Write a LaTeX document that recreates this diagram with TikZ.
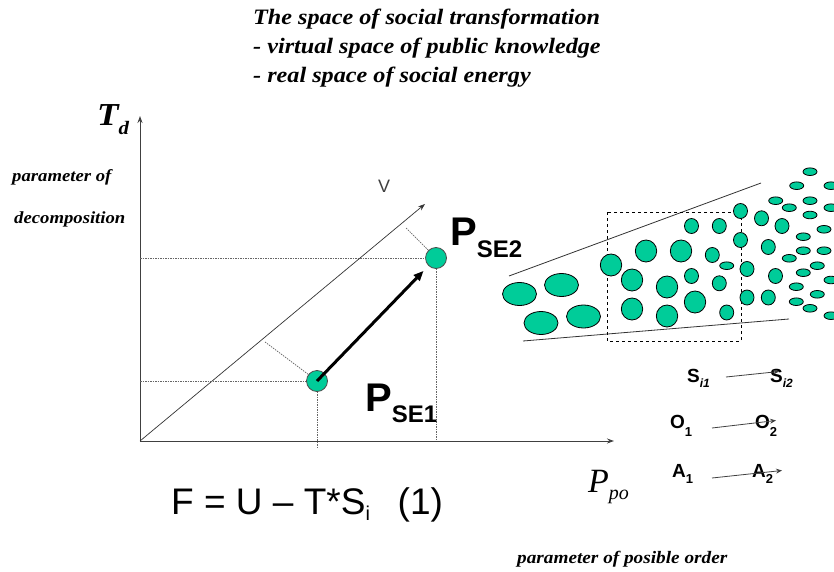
\documentclass[tikz,border=0pt]{standalone}
\usepackage{fontspec}
\setmainfont{Liberation Serif}
\setsansfont{Liberation Sans}
\newfontfamily\widefont{Liberation Serif}[FakeStretch=1.1]
\usetikzlibrary{arrows.meta, positioning}
\definecolor{seagreen}{HTML}{00CC99}
\newcommand{\fsz}[1]{\fontsize{#1}{#1}\selectfont}
\def\bigRx{10.7pt}
\def\bigRy{11pt}

\begin{document}
\begin{tikzpicture}[
    x=1pt, y=-1pt,
    >={Stealth[length=7pt,width=5pt]},
    every node/.style={inner sep=0pt},
    caption/.style={font=\widefont\bfseries\itshape\fsz{22}, anchor=base west},
    note/.style={font=\widefont\bfseries\itshape\fsz{17}, anchor=base west},
    axis/.style={->, draw=black!75, line width=1pt},
    guide/.style={draw=black!60, line width=0.7pt, dash pattern=on 1.5pt off 1pt},
    pse/.style={circle, fill=seagreen, draw=black!70, line width=0.8pt, minimum size=21pt},
    cell/.style={fill=seagreen, draw=black, line width=0.8pt},
    tag/.style={font=\sffamily\bfseries\fsz{19}, anchor=base west},
    transit/.style={->, draw=black!75, line width=0.8pt, >={Stealth[length=6pt,width=5pt]}}
]
\useasboundingbox (0,0) rectangle (834,572);

% title
\node[caption] (t1) at (253,25) {The space of social transformation};
\node[caption] (t2) at (253,54) {- virtual space of public knowledge};
\node[caption] (t3) at (253,83) {- real space of social energy};

% axes
\coordinate (O) at (140,441);
\coordinate (ytop) at (140,116);
\coordinate (xend) at (614,441);
\draw[axis] (O) -- (ytop);
\draw[axis] (O) -- (xend);
\node[font=\widefont\bfseries\itshape, anchor=base west] (td) at (97,126)
    {\fsz{32}T\raisebox{-9pt}{\fsz{19}d}};
\node[note] (dec1) at (12,182) {parameter of};
\node[note] (dec2) at (14,223) {decomposition};
\node[font=\itshape, anchor=base west] (ppo) at (588,492)
    {\fsz{34}P\raisebox{-7pt}{\fsz{20}po}};
\node[note, font=\widefont\bfseries\itshape\fsz{17.5}] (ord) at (517,563) {parameter of posible order};

% direction V
\coordinate (vtip) at (425,204);
\draw[->, draw=black!80, line width=0.7pt, >={Stealth[length=7pt,width=5pt]}] (O) -- (vtip);
\node[font=\sffamily\fsz{18}, text=black!75] (v) at (384,186) {V};

% the two states
\node[pse] (pse1) at (317,381) {};
\node[pse] (pse2) at (436,258) {};
\draw[guide] (O |- pse1) -- (pse1);
\draw[guide] (pse1) -- (pse1 |- 0,447);
\draw[guide] (O |- pse2) -- (pse2);
\draw[guide] (pse2) -- (pse2 |- 0,441);
\coordinate (f1) at (265,342);
\coordinate (f2) at (406,228);
\draw[guide] (f1) -- (pse1);
\draw[guide] (f2) -- (pse2);
\draw[-{Triangle[length=10pt,width=8pt]}, line width=3pt, shorten >=7pt] (pse1.center) -- (pse2);
\node[font=\sffamily\bfseries, anchor=base west] (lab1) at (365,411)
    {\fsz{40}P\raisebox{-11pt}{\fsz{24}SE1}};
\node[font=\sffamily\bfseries, anchor=base west] (lab2) at (450,245)
    {\fsz{40}P\raisebox{-12pt}{\fsz{24}SE2}};

% equation
\node[font=\sffamily\fsz{37}, anchor=base west] (eq) at (171,514)
    {F = U -- T*S\raisebox{-6pt}{\fsz{20}i}\hspace{0.75em}(1)};

% structure cloud
\coordinate (up1) at (509,276);
\coordinate (up2) at (761,183);
\coordinate (lo1) at (523,341);
\coordinate (lo2) at (789,319);
\draw[draw=black!80, line width=0.8pt] (up1) -- (up2);
\draw[draw=black!80, line width=0.8pt] (lo1) -- (lo2);
\draw[dashed, line width=0.8pt] (607,212) rectangle (741,341);

\foreach \x/\y in {519.5/294, 561.5/285, 541/323, 583.5/316.5}
  \draw[cell] (\x,\y) ellipse [x radius=17pt, y radius=11.5pt];
\foreach \x/\y in {611/265, 646/251, 681/251, 632/280, 667/287, 632/309, 667/316, 695/302}
  \draw[cell] (\x,\y) ellipse [x radius=\bigRx, y radius=\bigRy];
\foreach \x/\y in {691.5/226, 719.3/226, 712.3/255, 691.5/276, 719.3/283.3, 726.7/312.5,
    740.5/211, 740.5/240, 747/269, 747/297.5, 761.5/218.3, 782/226, 768.3/247,
    775.5/276, 768.3/297.5}
  \draw[cell] (\x,\y) ellipse [x radius=7pt, y radius=7.5pt];
\foreach \x/\y in {726.7/265.7, 810/171.7, 796.7/185.7, 831/185.7, 775.7/200.7,
    810/200.7, 789.3/207.7, 831/207.7, 810/215, 824/229.3, 803.3/236.7,
    803.3/250.7, 824/250.7, 789.3/258.3, 817.3/265.7, 803.3/272.7, 831/280,
    796.3/286.7, 817.3/294.3, 796.3/301.7, 810/308.3, 831/315.7}
  \draw[cell] (\x,\y) ellipse [x radius=7pt, y radius=3.8pt];

% entropy, order, action
\node[tag] (si1) at (687,382) {S\raisebox{-5pt}{\fsz{12}\itshape i1}};
\node[tag] (si2) at (770,382) {S\raisebox{-5pt}{\fsz{12}\itshape i2}};
\node[tag] (o1) at (670,428) {O\raisebox{-8pt}{\fsz{13}1}};
\node[tag] (o2) at (755,428) {O\raisebox{-8pt}{\fsz{13}2}};
\node[tag] (a1) at (672,477) {A\raisebox{-6pt}{\fsz{13}1}};
\node[tag] (a2) at (752,477) {A\raisebox{-6pt}{\fsz{13}2}};
\coordinate (s1a) at (726,377);
\coordinate (s1b) at (779,371.5);
\coordinate (o1a) at (712,428);
\coordinate (o1b) at (776,420.5);
\coordinate (a1a) at (712,478);
\coordinate (a1b) at (782,470.5);
\draw[transit] (s1a) -- (s1b);
\draw[transit] (o1a) -- (o1b);
\draw[transit] (a1a) -- (a1b);
\end{tikzpicture}
\end{document}
